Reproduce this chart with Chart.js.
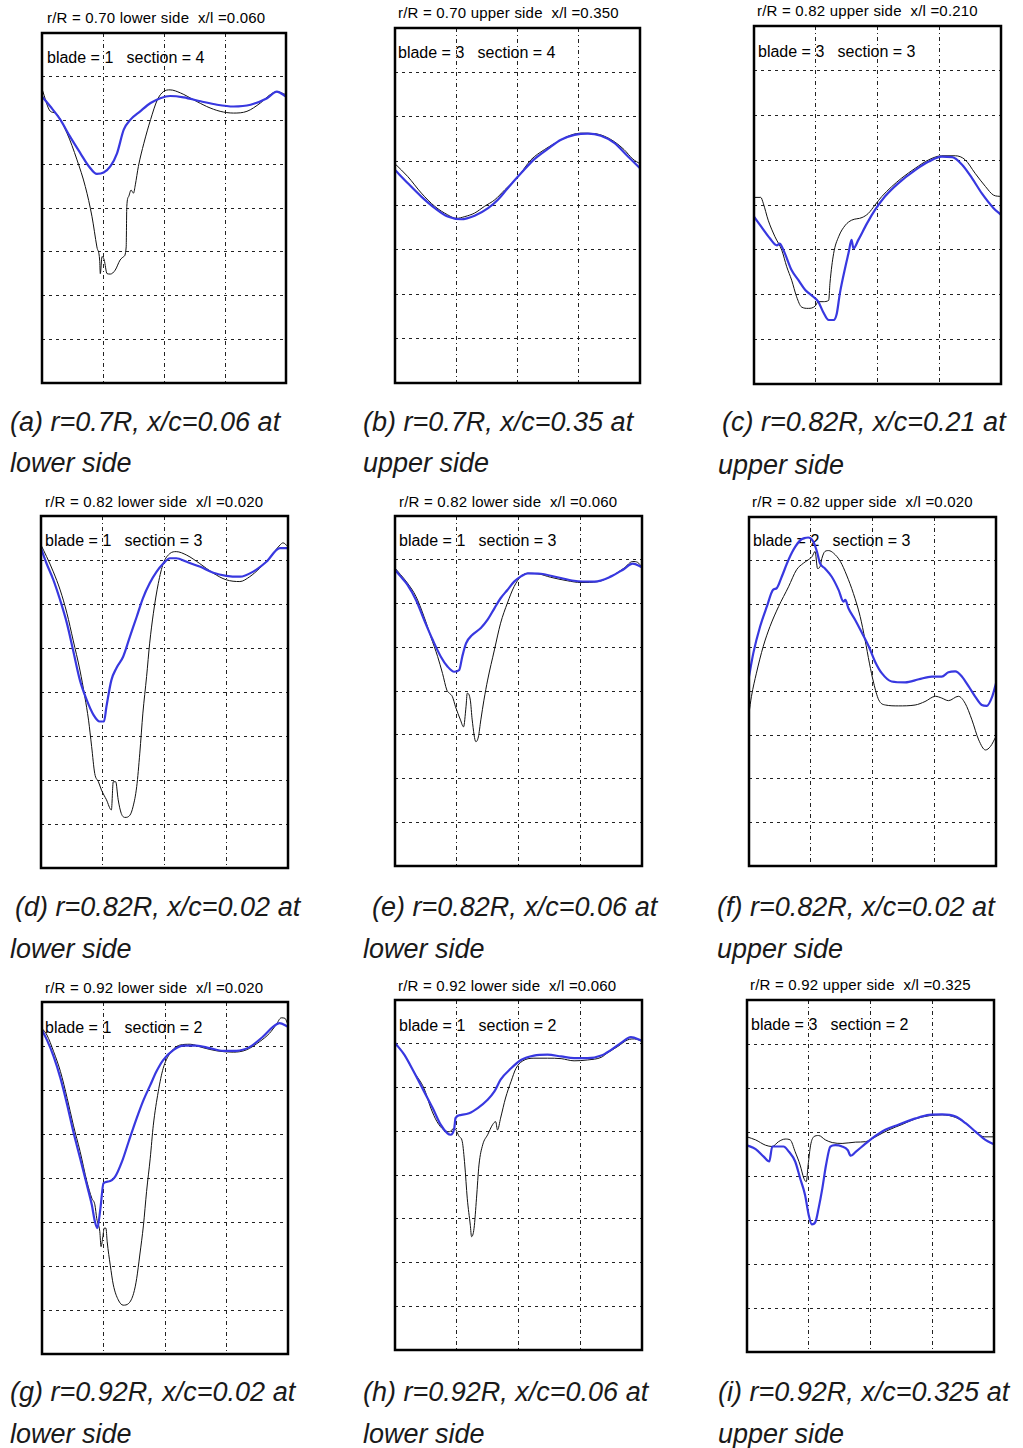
<!DOCTYPE html>
<html>
<head>
<meta charset="utf-8">
<script src="https://cdn.jsdelivr.net/npm/chart.js@4.4.0/dist/chart.umd.min.js"></script>
<style>
  html, body { margin: 0; padding: 0; background: #fff; }
  body { width: 1023px; height: 1448px; position: relative; overflow: hidden; }
  .t { position: absolute; font-family: "Liberation Sans", Arial, sans-serif; color: #000; white-space: pre; line-height: 1; }
  .title { font-size: 15px; letter-spacing: 0.2px; }
  .inner { font-size: 16px; letter-spacing: 0px; }
  .cap { font-size: 27px; font-style: italic; letter-spacing: 0px; color: #1a1a1a; }
  .wrap { position: absolute; }
</style>
</head>
<body>
<script>
// ---------------- DATA (grid units: x 0..4, y 0..8) ----------------
const xTicks = [0, 1, 2, 3, 4];
const yTicks = [0, 1, 2, 3, 4, 5, 6, 7, 8];

const aBlack = [[0,6.72],[0.137,6.21],[0.219,6.17],[0.41,5.71],[0.574,5.10],[0.71,4.49],[0.82,3.80],[0.90,3.11],[0.945,2.81],[0.956,2.50],[0.984,2.89],[1.02,2.81],[1.066,2.50],[1.12,2.49],[1.20,2.58],[1.28,2.81],[1.34,2.89],[1.38,3.11],[1.39,4.03],[1.42,4.26],[1.46,4.41],[1.50,4.34],[1.53,4.53],[1.58,4.95],[1.67,5.48],[1.78,6.02],[1.89,6.47],[1.99,6.66],[2.10,6.70],[2.27,6.63],[2.49,6.47],[2.70,6.32],[2.92,6.21],[3.14,6.17],[3.36,6.21],[3.58,6.40],[3.74,6.59],[3.85,6.66],[4.0,6.59]];
const aBlue = [[0,6.55],[0.137,6.32],[0.30,6.02],[0.46,5.63],[0.63,5.25],[0.77,4.95],[0.90,4.78],[1.01,4.81],[1.12,4.95],[1.23,5.25],[1.34,5.79],[1.45,6.02],[1.61,6.21],[1.78,6.40],[1.94,6.51],[2.10,6.56],[2.32,6.53],[2.60,6.44],[2.87,6.36],[3.14,6.32],[3.42,6.36],[3.69,6.51],[3.85,6.66],[4.0,6.55]];

const bBlack = [[0,4.94],[0.21,4.65],[0.43,4.28],[0.65,3.98],[0.86,3.79],[1.0,3.71],[1.14,3.75],[1.30,3.83],[1.46,3.98],[1.63,4.13],[1.79,4.35],[2.01,4.65],[2.22,5.03],[2.44,5.26],[2.66,5.44],[2.88,5.59],[3.04,5.63],[3.26,5.62],[3.42,5.56],[3.58,5.44],[3.74,5.26],[3.88,5.05],[4.0,4.94]];
const bBlue = [[0,4.80],[0.21,4.50],[0.43,4.20],[0.65,3.94],[0.86,3.75],[1.08,3.69],[1.30,3.77],[1.52,3.94],[1.68,4.13],[1.84,4.39],[2.06,4.73],[2.28,5.05],[2.49,5.27],[2.71,5.48],[2.93,5.59],[3.15,5.62],[3.36,5.57],[3.58,5.41],[3.80,5.11],[4.0,4.84]];

const cBlack = [[0,4.17],[0.11,4.17],[0.15,4.04],[0.23,3.66],[0.34,3.29],[0.45,2.99],[0.53,2.62],[0.61,2.32],[0.69,1.95],[0.77,1.72],[0.88,1.69],[0.99,1.74],[1.04,1.84],[1.12,1.84],[1.21,1.87],[1.23,2.25],[1.29,2.92],[1.37,3.29],[1.48,3.55],[1.58,3.66],[1.75,3.72],[1.85,3.81],[1.96,4.00],[2.07,4.19],[2.23,4.41],[2.39,4.60],[2.61,4.82],[2.83,5.01],[3.04,5.10],[3.26,5.10],[3.42,5.01],[3.58,4.71],[3.75,4.41],[3.88,4.22],[4.0,4.19]];
const cBlue = [[0,3.74],[0.12,3.51],[0.26,3.25],[0.37,3.10],[0.42,3.14],[0.45,3.07],[0.50,2.92],[0.61,2.54],[0.72,2.32],[0.83,2.10],[0.96,1.95],[1.04,1.84],[1.12,1.61],[1.21,1.43],[1.29,1.43],[1.34,1.57],[1.39,2.02],[1.48,2.62],[1.53,2.92],[1.58,3.22],[1.61,3.03],[1.69,3.22],[1.83,3.59],[1.96,3.89],[2.12,4.19],[2.34,4.49],[2.61,4.78],[2.83,4.97],[3.04,5.08],[3.21,5.07],[3.37,4.90],[3.53,4.60],[3.69,4.26],[3.88,3.93],[4.0,3.78]];

const dBlack = [[0,7.34],[0.09,7.08],[0.20,6.73],[0.31,6.32],[0.42,5.79],[0.52,5.18],[0.63,4.50],[0.71,3.89],[0.77,3.36],[0.82,2.76],[0.87,2.15],[0.93,1.96],[0.98,1.77],[1.06,1.55],[1.14,1.32],[1.17,1.96],[1.21,1.96],[1.25,1.55],[1.30,1.24],[1.36,1.15],[1.44,1.20],[1.49,1.39],[1.55,1.85],[1.60,2.61],[1.65,3.52],[1.71,4.35],[1.76,5.11],[1.82,5.79],[1.90,6.47],[1.98,6.92],[2.09,7.15],[2.19,7.19],[2.36,7.11],[2.57,6.92],[2.79,6.70],[3.00,6.55],[3.22,6.51],[3.38,6.62],[3.54,6.81],[3.70,7.04],[3.87,7.34],[3.92,7.39],[4.0,7.30]];
const dBlue = [[0,7.27],[0.09,6.92],[0.20,6.55],[0.31,6.09],[0.42,5.56],[0.52,4.95],[0.63,4.27],[0.74,3.82],[0.85,3.48],[0.95,3.33],[1.02,3.33],[1.06,3.67],[1.14,4.27],[1.22,4.54],[1.33,4.80],[1.44,5.26],[1.55,5.71],[1.65,6.13],[1.76,6.47],[1.87,6.73],[1.98,6.92],[2.09,7.04],[2.19,7.04],[2.36,6.96],[2.57,6.85],[2.79,6.71],[3.00,6.64],[3.22,6.62],[3.43,6.73],[3.65,6.96],[3.87,7.27],[4.0,7.27]];

const eBlack = [[0,6.81],[0.09,6.66],[0.20,6.47],[0.34,6.16],[0.47,5.70],[0.58,5.24],[0.69,4.79],[0.77,4.40],[0.84,4.02],[0.88,3.95],[0.93,3.87],[0.98,3.64],[1.06,3.34],[1.11,3.18],[1.15,3.64],[1.17,3.95],[1.22,3.79],[1.25,3.34],[1.31,2.84],[1.35,2.95],[1.39,3.34],[1.44,3.79],[1.50,4.25],[1.61,4.94],[1.71,5.55],[1.82,6.01],[1.93,6.39],[2.04,6.62],[2.15,6.69],[2.31,6.68],[2.52,6.60],[2.79,6.52],[3.01,6.48],[3.28,6.50],[3.50,6.62],[3.71,6.81],[3.85,6.96],[3.93,6.94],[4.0,6.83]];
const eBlue = [[0,6.77],[0.09,6.62],[0.20,6.43],[0.34,6.08],[0.47,5.63],[0.61,5.17],[0.74,4.79],[0.85,4.56],[0.96,4.44],[1.04,4.48],[1.09,4.79],[1.15,5.09],[1.25,5.28],[1.39,5.44],[1.50,5.63],[1.61,5.89],[1.71,6.12],[1.82,6.31],[1.93,6.50],[2.04,6.62],[2.15,6.69],[2.36,6.68],[2.63,6.60],[2.90,6.52],[3.23,6.50],[3.50,6.62],[3.71,6.79],[3.85,6.91],[4.0,6.83]];

const fBlack = [[0,3.50],[0.04,3.89],[0.12,4.42],[0.23,5.03],[0.34,5.49],[0.48,5.95],[0.64,6.40],[0.77,6.79],[0.88,6.94],[0.96,7.02],[1.02,7.09],[1.07,7.21],[1.11,6.82],[1.15,6.86],[1.18,7.05],[1.23,7.21],[1.29,7.23],[1.37,7.17],[1.48,6.98],[1.58,6.67],[1.69,6.25],[1.80,5.72],[1.88,5.18],[1.95,4.65],[2.02,4.19],[2.10,3.81],[2.21,3.69],[2.42,3.67],[2.69,3.69],[2.85,3.77],[3.02,3.89],[3.12,3.85],[3.23,3.79],[3.39,3.89],[3.50,3.73],[3.61,3.35],[3.72,2.89],[3.83,2.66],[3.91,2.74],[4.0,2.97]];
const fBlue = [[0,4.34],[0.07,4.88],[0.18,5.49],[0.29,5.95],[0.39,6.33],[0.45,6.37],[0.53,6.63],[0.64,7.02],[0.75,7.32],[0.85,7.49],[0.96,7.53],[1.04,7.44],[1.10,7.21],[1.15,6.94],[1.23,6.82],[1.34,6.63],[1.45,6.33],[1.53,6.06],[1.56,6.10],[1.61,5.91],[1.72,5.64],[1.83,5.34],[1.94,5.03],[2.04,4.69],[2.15,4.42],[2.31,4.23],[2.53,4.21],[2.75,4.28],[2.96,4.34],[3.12,4.34],[3.23,4.44],[3.34,4.46],[3.45,4.34],[3.56,4.11],[3.66,3.89],[3.77,3.69],[3.85,3.67],[3.94,3.89],[4.0,4.19]];

const gBlack = [[0,7.40],[0.08,7.25],[0.19,6.87],[0.30,6.42],[0.41,5.81],[0.51,5.20],[0.62,4.60],[0.73,3.92],[0.81,3.54],[0.86,3.39],[0.89,3.08],[0.94,2.78],[0.96,2.44],[0.99,2.67],[1.01,2.86],[1.04,2.86],[1.06,2.55],[1.11,2.02],[1.16,1.57],[1.24,1.23],[1.32,1.11],[1.41,1.15],[1.49,1.38],[1.54,1.72],[1.59,2.25],[1.65,2.93],[1.70,3.69],[1.76,4.45],[1.81,5.20],[1.89,5.96],[1.97,6.49],[2.08,6.83],[2.24,7.02],[2.41,7.04],[2.62,6.96],[2.84,6.89],[3.11,6.86],[3.32,6.91],[3.54,7.10],[3.70,7.29],[3.81,7.49],[3.89,7.64],[3.95,7.63],[4.0,7.48]];
const gBlue = [[0,7.36],[0.08,7.14],[0.19,6.76],[0.30,6.27],[0.41,5.66],[0.51,5.05],[0.62,4.45],[0.73,3.84],[0.81,3.39],[0.86,3.01],[0.90,2.86],[0.95,3.31],[1.00,3.88],[1.08,3.92],[1.19,4.03],[1.30,4.37],[1.41,4.83],[1.54,5.36],[1.65,5.77],[1.76,6.11],[1.86,6.42],[1.97,6.68],[2.14,6.91],[2.30,7.01],[2.51,7.01],[2.73,6.95],[2.95,6.89],[3.16,6.89],[3.38,6.98],[3.59,7.21],[3.76,7.44],[3.86,7.52],[4.0,7.44]];

const hBlack = [[0,7.02],[0.15,6.75],[0.30,6.37],[0.47,5.98],[0.58,5.53],[0.68,5.22],[0.79,5.03],[0.88,4.99],[0.96,5.07],[1.04,4.88],[1.09,4.76],[1.13,4.23],[1.17,3.47],[1.22,2.85],[1.24,2.59],[1.28,2.78],[1.32,3.47],[1.36,4.23],[1.42,4.69],[1.50,4.92],[1.58,5.15],[1.63,5.22],[1.66,5.03],[1.71,5.30],[1.79,5.76],[1.88,6.14],[1.96,6.44],[2.06,6.60],[2.25,6.67],[2.47,6.67],[2.69,6.66],[2.90,6.61],[3.12,6.63],[3.34,6.69],[3.44,6.79],[3.61,6.94],[3.77,7.09],[3.88,7.11],[4.0,7.05]];
const hBlue = [[0,7.02],[0.15,6.75],[0.30,6.37],[0.47,5.91],[0.61,5.53],[0.74,5.15],[0.85,4.95],[0.90,4.92],[0.96,5.07],[0.98,5.30],[1.06,5.37],[1.20,5.41],[1.34,5.53],[1.50,5.72],[1.61,5.91],[1.71,6.18],[1.88,6.44],[2.04,6.63],[2.25,6.73],[2.47,6.75],[2.69,6.71],[2.90,6.67],[3.12,6.67],[3.34,6.73],[3.50,6.86],[3.66,7.02],[3.82,7.15],[4.0,7.07]];

const iBlack = [[0,4.89],[0.14,4.82],[0.30,4.70],[0.41,4.67],[0.51,4.78],[0.62,4.84],[0.70,4.82],[0.78,4.55],[0.86,4.25],[0.92,3.95],[0.96,3.87],[0.99,4.25],[1.03,4.70],[1.08,4.89],[1.16,4.92],[1.27,4.82],[1.38,4.76],[1.54,4.74],[1.76,4.77],[1.92,4.78],[2.08,4.89],[2.30,5.05],[2.51,5.17],[2.73,5.30],[2.95,5.37],[3.16,5.39],[3.38,5.33],[3.54,5.20],[3.70,5.01],[3.84,4.89],[4.0,4.89]];
const iBlue = [[0,4.70],[0.14,4.61],[0.27,4.44],[0.36,4.33],[0.41,4.67],[0.51,4.67],[0.59,4.67],[0.68,4.55],[0.78,4.33],[0.86,3.95],[0.94,3.57],[1.00,3.11],[1.05,2.90],[1.11,2.96],[1.16,3.27],[1.22,3.72],[1.28,4.25],[1.35,4.67],[1.43,4.70],[1.54,4.67],[1.63,4.59],[1.68,4.46],[1.76,4.55],[1.89,4.70],[2.03,4.86],[2.24,5.05],[2.46,5.17],[2.73,5.31],[2.95,5.39],[3.16,5.40],[3.38,5.35],[3.54,5.20],[3.70,5.01],[3.86,4.82],[4.0,4.72]];

const titles = [
  "r/R = 0.70 lower side  x/l =0.060", "r/R = 0.70 upper side  x/l =0.350", "r/R = 0.82 upper side  x/l =0.210",
  "r/R = 0.82 lower side  x/l =0.020", "r/R = 0.82 lower side  x/l =0.060", "r/R = 0.82 upper side  x/l =0.020",
  "r/R = 0.92 lower side  x/l =0.020", "r/R = 0.92 lower side  x/l =0.060", "r/R = 0.92 upper side  x/l =0.325"
];
const innerLabels = [
  "blade = 1   section = 4", "blade = 3   section = 4", "blade = 3   section = 3",
  "blade = 1   section = 3", "blade = 1   section = 3", "blade = 2   section = 3",
  "blade = 1   section = 2", "blade = 1   section = 2", "blade = 3   section = 2"
];
const captionsLine1 = [
  "(a) r=0.7R, x/c=0.06 at", "(b) r=0.7R, x/c=0.35 at", "(c) r=0.82R, x/c=0.21 at",
  "(d) r=0.82R, x/c=0.02 at", "(e) r=0.82R, x/c=0.06 at", "(f) r=0.82R, x/c=0.02 at",
  "(g) r=0.92R, x/c=0.02 at", "(h) r=0.92R, x/c=0.06 at", "(i) r=0.92R, x/c=0.325 at"
];
const captionsLine2 = [
  "lower side", "upper side", "upper side",
  "lower side", "lower side", "upper side",
  "lower side", "lower side", "upper side"
];
const blackSeries = [aBlack, bBlack, cBlack, dBlack, eBlack, fBlack, gBlack, hBlack, iBlack];
const blueSeries  = [aBlue, bBlue, cBlue, dBlue, eBlue, fBlue, gBlue, hBlue, iBlue];

// ---------------- LAYOUT (page pixels) ----------------
const boxes = [
  [42, 33, 244, 350], [395, 28, 245, 355], [754, 26, 247, 358],
  [41, 516, 247, 352], [395, 516, 247, 350], [749, 517, 247, 349],
  [42, 1002, 246, 352], [395, 1000, 247, 350], [747, 1000, 247, 352]
];
const titlePos = [[47,23],[398,18],[757,16],[45,507],[399,507],[752,507],[45,993],[398,991],[750,990]];
const innerPos = [[47,63],[398,58],[758,57],[45,546],[399,546],[753,546],[45,1033],[399,1031],[751,1030]];
const capPos1 = [[10,432],[363,432],[722,432],[15,917],[372,917],[717,917],[10,1402],[363,1402],[718,1402]];
const capPos2 = [[10,473],[363,473],[718,475],[10,959],[363,959],[717,959],[10,1444],[363,1444],[718,1444]];

function addText(cls, txt, left, baseline, asc) {
  const d = document.createElement('div');
  d.className = 't ' + cls;
  d.textContent = txt;
  d.style.left = left + 'px';
  d.style.top = (baseline - asc) + 'px';
  document.body.appendChild(d);
}

const boxPlugin = {
  id: 'boxPlugin',
  afterDraw(chart) {
    const a = chart.chartArea, ctx = chart.ctx;
    ctx.save();
    ctx.strokeStyle = '#000';
    ctx.lineWidth = 2.5;
    ctx.setLineDash([]);
    ctx.strokeRect(a.left, a.top, a.right - a.left, a.bottom - a.top);
    ctx.restore();
  }
};

const PAD = 4;
for (let i = 0; i < 9; i++) {
  addText('title', titles[i], titlePos[i][0], titlePos[i][1], 12.7);
  addText('inner', innerLabels[i], innerPos[i][0], innerPos[i][1], 13.5);
  addText('cap', captionsLine1[i], capPos1[i][0], capPos1[i][1], 22.9);
  addText('cap', captionsLine2[i], capPos2[i][0], capPos2[i][1], 22.9);

  const [L, T, W, H] = boxes[i];
  const wrap = document.createElement('div');
  wrap.className = 'wrap';
  wrap.style.left = (L - PAD) + 'px';
  wrap.style.top = (T - PAD) + 'px';
  const cv = document.createElement('canvas');
  cv.width = W + 2 * PAD; cv.height = H + 2 * PAD;
  cv.style.width = cv.width + 'px'; cv.style.height = cv.height + 'px';
  wrap.appendChild(cv);
  document.body.appendChild(wrap);

  const toXY = arr => arr.map(p => ({x: p[0], y: p[1]}));
  const gridCommon = { display: true, drawTicks: false, color: '#222', lineWidth: 1 };
  new Chart(cv.getContext('2d'), {
    type: 'line',
    data: {
      datasets: [
        { data: toXY(blackSeries[i]), borderColor: '#111', borderWidth: 1, pointRadius: 0,
          cubicInterpolationMode: 'monotone', fill: false, order: 2 },
        { data: toXY(blueSeries[i]), borderColor: '#3838e0', borderWidth: 2.2, pointRadius: 0,
          cubicInterpolationMode: 'monotone', fill: false, order: 1 }
      ]
    },
    options: {
      responsive: false, animation: false, devicePixelRatio: 1,
      layout: { padding: PAD },
      plugins: { legend: { display: false }, tooltip: { enabled: false }, title: { display: false } },
      scales: {
        x: { type: 'linear', min: xTicks[0], max: xTicks[xTicks.length - 1],
             afterBuildTicks: s => { s.ticks = xTicks.map(v => ({value: v})); },
             ticks: { display: false }, grid: gridCommon,
             border: { display: false, dash: [4, 3, 1, 3] } },
        y: { type: 'linear', min: yTicks[0], max: yTicks[yTicks.length - 1],
             afterBuildTicks: s => { s.ticks = yTicks.map(v => ({value: v})); },
             ticks: { display: false }, grid: gridCommon,
             border: { display: false, dash: [3, 4] } }
      }
    },
    plugins: [boxPlugin]
  });
}
</script>
</body>
</html>
